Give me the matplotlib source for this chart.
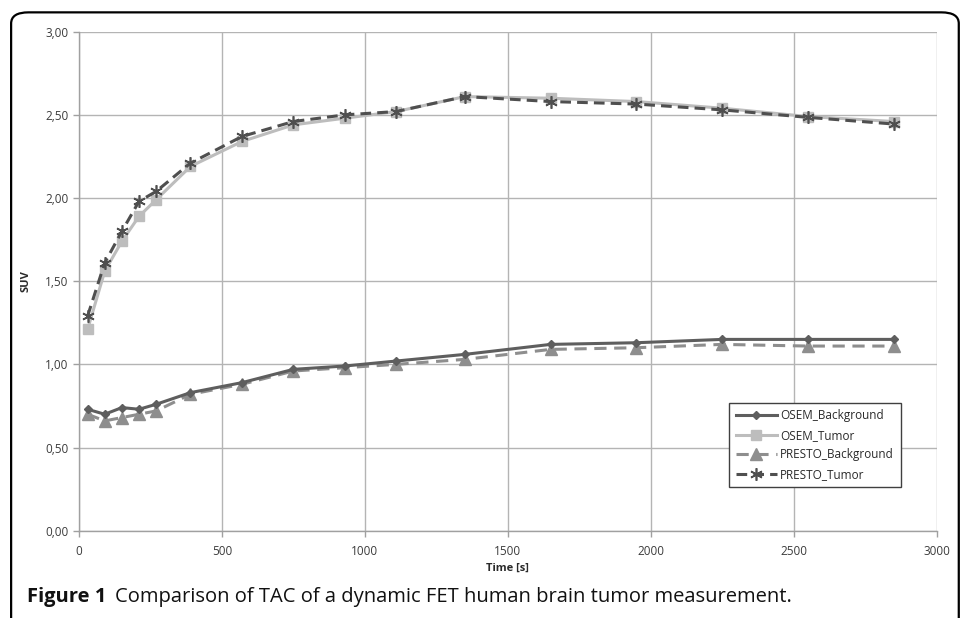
import matplotlib.pyplot as plt
from matplotlib.patches import FancyBboxPatch
from matplotlib.ticker import FuncFormatter, MultipleLocator

plt.rcParams['font.family'] = ['Open Sans', 'DejaVu Sans']

# frame mid-times in seconds
time_s = [30, 90, 150, 210, 270, 390, 570, 750, 930, 1110, 1350, 1650, 1950, 2250, 2550, 2850]

osem_background = [0.73, 0.70, 0.74, 0.73, 0.76, 0.83, 0.89, 0.97, 0.99, 1.02, 1.06, 1.12, 1.13, 1.15, 1.15, 1.15]
osem_tumor = [1.21, 1.56, 1.74, 1.89, 1.99, 2.19, 2.34, 2.44, 2.48, 2.52, 2.61, 2.60, 2.58, 2.54, 2.49, 2.46]
presto_background = [0.70, 0.66, 0.68, 0.70, 0.72, 0.82, 0.88, 0.96, 0.98, 1.00, 1.03, 1.09, 1.10, 1.12, 1.11, 1.11]
presto_tumor = [1.29, 1.61, 1.80, 1.98, 2.04, 2.21, 2.37, 2.46, 2.50, 2.52, 2.61, 2.58, 2.565, 2.53, 2.485, 2.445]

fig = plt.figure(figsize=(9.67, 6.18), dpi=100)
ax = fig.add_axes([0.0817, 0.1413, 0.8868, 0.8074])

ax.plot(time_s, osem_background, color='#5e5e5e', lw=2.2, marker='D', ms=4.5,
        label='OSEM_Background', zorder=4)
ax.plot(time_s, osem_tumor, color='#bdbdbd', lw=2.2, marker='s', ms=7,
        label='OSEM_Tumor', zorder=3)
ax.plot(time_s, presto_background, color='#8e8e8e', lw=2.2, ls=(0, (4, 2.5)), marker='^', ms=8.5,
        label='PRESTO_Background', zorder=3)
ax.plot(time_s, presto_tumor, color='#4f4f4f', lw=2.2, ls=(0, (3.5, 2)), marker=(6, 2, 0), ms=9,
        mew=1.2, label='PRESTO_Tumor', zorder=5)

ax.set_xlim(0, 3000)
ax.set_ylim(0, 3.0)
ax.xaxis.set_major_locator(MultipleLocator(500))
ax.yaxis.set_major_locator(MultipleLocator(0.5))
ax.yaxis.set_major_formatter(FuncFormatter(lambda v, p: f'{v:.2f}'.replace('.', ',')))

ax.grid(True, color='#b4b4b4', lw=1.0)
ax.set_axisbelow(True)
for side in ['top', 'right']:
    ax.spines[side].set_visible(False)
for side in ['left', 'bottom']:
    ax.spines[side].set_color('#a0a0a0')
    ax.spines[side].set_linewidth(1.0)
ax.tick_params(axis='both', colors='#a0a0a0', labelcolor='#3c3c3c', labelsize=8.5, length=4, width=1)
ax.tick_params(axis='x', pad=6)

ax.set_xlabel('Time [s]', fontsize=8, fontweight='bold', color='#2a2a2a', labelpad=4)
ax.set_ylabel('SUV', fontsize=8, fontweight='bold', color='#2a2a2a', labelpad=10)

leg = ax.legend(loc='lower left', bbox_to_anchor=(0.758, 0.087), borderaxespad=0, fontsize=8.5,
                handlelength=3.5, borderpad=0.55, labelspacing=0.55, handletextpad=0.3,
                fancybox=False, framealpha=1, edgecolor='#404040')
leg.get_frame().set_linewidth(1.0)
for t in leg.get_texts():
    t.set_color('#2a2a2a')

# rounded frame around the figure panel (open at the bottom)
frame = FancyBboxPatch((0.0115, -0.2), 0.98, 1.18, transform=fig.transFigure,
                       boxstyle='round,pad=0,rounding_size=0.018', fill=False,
                       edgecolor='black', lw=1.6, clip_on=False)
fig.patches.append(frame)

cap_bold = fig.text(0.028, 0.034, 'Figure 1', fontsize=14.5, fontweight='bold', color='#111111', va='center')
renderer = fig.canvas.get_renderer()
bb = cap_bold.get_window_extent(renderer)
fig.text((bb.x1 + 9) / fig.bbox.width, 0.034,
         'Comparison of TAC of a dynamic FET human brain tumor measurement.',
         fontsize=14.5, color='#111111', va='center')

fig.savefig('out.png', dpi=100)
